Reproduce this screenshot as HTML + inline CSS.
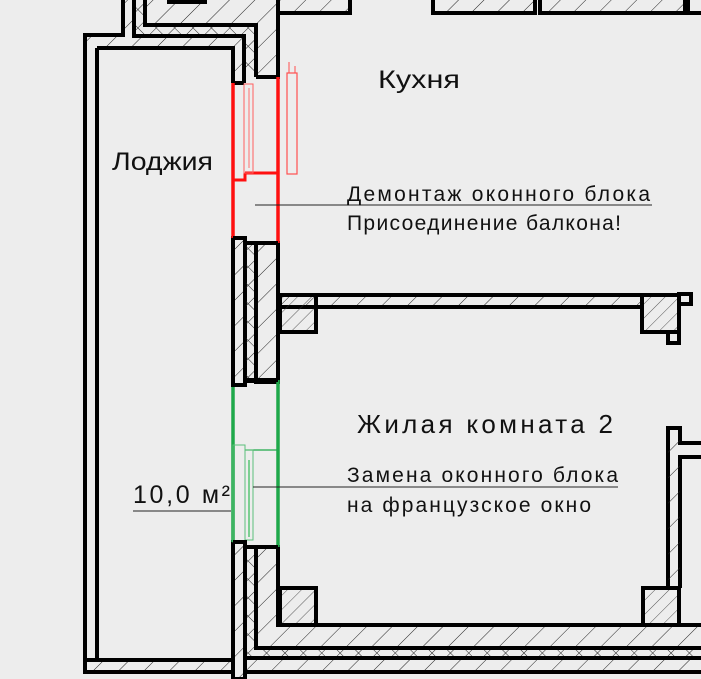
<!DOCTYPE html>
<html><head><meta charset="utf-8"><style>
html,body{margin:0;padding:0;background:#ededed;}
svg{display:block;}
text{font-family:"Liberation Sans","DejaVu Sans",sans-serif;fill:#111;}
</style></head><body>
<svg width="701" height="679" viewBox="0 0 701 679" xmlns="http://www.w3.org/2000/svg">
<defs>
<pattern id="h" width="18" height="18" patternUnits="userSpaceOnUse" patternTransform="rotate(45)">
<line x1="0" y1="0" x2="0" y2="18" stroke="#222" stroke-width="1"/>
</pattern>
<pattern id="x" width="13" height="13" patternUnits="userSpaceOnUse" patternTransform="rotate(45)">
<line x1="0" y1="0" x2="0" y2="13" stroke="#222" stroke-width="1"/>
<line x1="0" y1="0" x2="13" y2="0" stroke="#222" stroke-width="1"/>
</pattern>
<pattern id="c" width="10" height="10" patternUnits="userSpaceOnUse" patternTransform="rotate(45)">
<line x1="0" y1="0" x2="0" y2="10" stroke="#333" stroke-width="0.8"/>
</pattern>
</defs>
<rect width="701" height="679" fill="#ededed"/>

<g stroke="#000" stroke-width="4" fill="none">
<path d="M85,35 L123,35 L123,0 L134,0 L134,36 L244,36 L244,83 L233,83 L233,48 L85,48 Z" fill="url(#h)" stroke="none"/>
<path d="M134,0 L145,0 L145,25 L256,25 L256,77 L244,77 L244,36 L134,36 Z" fill="url(#x)" stroke="none"/>
<path d="M145,0 L278,0 L278,77 L256,77 L256,25 L145,25 Z" fill="url(#h)" stroke="none"/>
<path d="M123,0 L123,35 L85,35 L85,670"/>
<path d="M134,0 L134,36 L244,36 L244,83"/>
<path d="M145,0 L145,25 L256,25 L256,77"/>
<path d="M97,48 L233,48 L233,83"/>
<path d="M97,48 L97,660"/>
<path d="M167,2 L207,2"/>
<path d="M278,0 L278,77 L256,77"/>
<path d="M233,83 L244,83"/>
<rect x="278" y="-3" width="72" height="16" fill="url(#h)"/>
<rect x="433" y="-3" width="102" height="16" fill="url(#h)"/>
<rect x="540" y="-3" width="145" height="16" fill="url(#h)"/>
<rect x="688" y="-3" width="20" height="16" fill="url(#h)"/>

<rect x="233" y="238" width="12" height="147" fill="url(#h)"/>
<rect x="245" y="243" width="11" height="139" fill="url(#x)" stroke-width="2"/>
<rect x="256" y="243" width="22" height="139" fill="url(#h)"/>

<path d="M233,542 L245,542 L245,679 L233,679 Z" fill="url(#h)"/>
<path d="M245,547 L256,547 L256,648 L701,648 L701,658 L245,658 Z" fill="url(#x)" stroke="none"/>
<path d="M256,547 L278,547 L278,625 L701,625 L701,648 L256,648 Z" fill="url(#h)" stroke="none"/>
<path d="M245,547 L245,679"/>
<path d="M256,547 L278,547 L278,625 L701,625"/>
<path d="M256,547 L256,648 L701,648"/>
<path d="M245,658 L701,658"/>
<rect x="245" y="658" width="460" height="14" fill="url(#h)"/>
<rect x="85" y="660" width="148" height="12" fill="url(#h)"/>

<rect x="280" y="295" width="362" height="12" fill="url(#h)"/>
<rect x="280" y="295" width="36" height="37" fill="url(#c)"/>
<rect x="642" y="295" width="37" height="37" fill="url(#c)"/>
<rect x="668" y="332" width="11" height="11" fill="#ededed"/>
<rect x="679" y="294" width="12" height="10" fill="#ededed"/>

<path d="M668,588 L668,428 L680,428 L680,443 L705,443"/>
<path d="M680,588 L680,457 L705,457"/>
<rect x="668" y="440" width="12" height="148" fill="url(#h)" stroke="none"/>
<rect x="280" y="588" width="36" height="37" fill="url(#c)"/>
<rect x="643" y="588" width="36" height="37" fill="url(#c)"/>
</g>

<g stroke="#ff1010" fill="none">
<path d="M233,83 L233,238" stroke-width="3.5"/>
<path d="M278,77 L278,243" stroke-width="3.5"/>
<path d="M245,173 L278,173" stroke-width="3"/>
<path d="M233,180 L245,180 L245,173" stroke-width="3"/>
<rect x="244" y="84" width="9" height="89" stroke-width="1" stroke="#ff6060"/>
<line x1="249" y1="88" x2="249" y2="168" stroke="#ff7070" stroke-width="1"/>
<rect x="287" y="73" width="10" height="101" stroke-width="1.2" stroke="#ff5050"/>
<path d="M289,62 L289,73 M295,66 L295,73" stroke-width="1" stroke="#ff5050"/>
</g>

<g stroke="#1ea84a" fill="none">
<path d="M233,387 L233,542" stroke-width="3.5"/>
<path d="M278,380 L278,547" stroke-width="3.5"/>
<path d="M245,450 L278,450" stroke-width="1.2"/>
<rect x="233" y="445" width="12" height="97" stroke-width="1" stroke="#5cc07a"/>
<rect x="245" y="450" width="8" height="90" stroke-width="1" stroke="#5cc07a"/>
<line x1="249" y1="460" x2="249" y2="537" stroke="#7ccf92" stroke-width="2"/>
</g>
<g stroke="#000" stroke-width="4">
<path d="M233,385 L245,385 L245,380 L278,380" fill="none"/>
<path d="M233,238 L245,238 L245,243 L278,243" fill="none"/>
<path d="M233,542 L245,542 L245,547 L278,547" fill="none"/>
</g>

<g stroke="#222" stroke-width="1">
<line x1="255" y1="205" x2="652" y2="205"/>
<line x1="253" y1="487" x2="618" y2="487"/>
<line x1="133" y1="511" x2="231" y2="511"/>
</g>

<text x="378" y="88" font-size="25" textLength="82" lengthAdjust="spacingAndGlyphs">Кухня</text>
<text x="112" y="170" font-size="25" textLength="101" lengthAdjust="spacingAndGlyphs">Лоджия</text>
<text x="347" y="201" font-size="21" textLength="303" lengthAdjust="spacing">Демонтаж оконного блока</text>
<text x="347" y="230" font-size="21" textLength="274" lengthAdjust="spacing">Присоединение балкона!</text>
<text x="357" y="433" font-size="26" textLength="256" lengthAdjust="spacing">Жилая комната 2</text>
<text x="347" y="482" font-size="21" textLength="271" lengthAdjust="spacing">Замена оконного блока</text>
<text x="347" y="512" font-size="21" textLength="244" lengthAdjust="spacing">на французское окно</text>
<text x="133" y="503" font-size="25" textLength="97" lengthAdjust="spacing">10,0 м²</text>
</svg>
</body></html>
